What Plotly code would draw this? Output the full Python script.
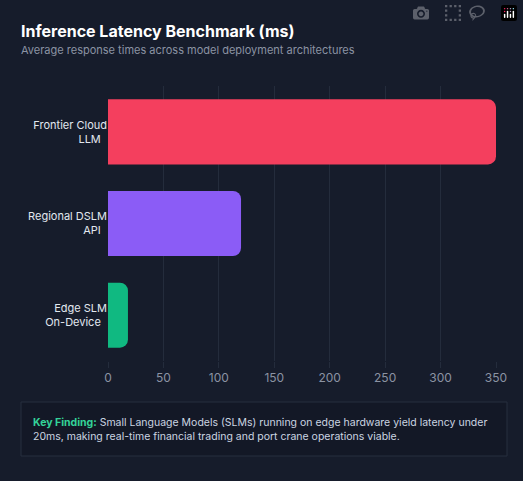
import plotly.graph_objects as go

categories = ["Edge SLM<br>On-Device", "Regional DSLM<br>API", "Frontier Cloud<br>LLM"]
latency_ms = [18, 120, 350]
bar_colors = ["#10b981", "#8b5cf6", "#f43f5e"]
tick_vals = [0, 50, 100, 150, 200, 250, 300, 350]

W, H = 523, 481
ML, MR, MT, MB = 108, 27, 86, 120
PW, PH = W - ML - MR, H - MT - MB

def px(x):
    return (x - ML) / PW
def py(y):
    return (H - MB - y) / PH

fig = go.Figure(go.Bar(
    y=categories, x=latency_ms, orientation="h",
    marker=dict(color=bar_colors, line=dict(width=0), cornerradius=8),
    hoverinfo="x+y",
))
fig.update_layout(
    width=W, height=H,
    margin=dict(l=ML, r=MR, t=MT, b=MB),
    paper_bgcolor="#161c2b", plot_bgcolor="#161c2b",
    bargap=0.29, showlegend=False,
    font=dict(family="Inter, Lato, sans-serif", color="#cbd5e1", size=11),
    xaxis=dict(range=[0, 350], tickvals=tick_vals, showgrid=True, gridcolor="#242c3c",
               zeroline=False, ticks="outside", ticklen=6, tickcolor="#242c3c",
               tickfont=dict(size=12, color="#8b93a3"), showline=False, fixedrange=True),
    yaxis=dict(showgrid=False, tickfont=dict(size=11, color="#e2e8f0"), ticks="",
               ticksuffix="  ", fixedrange=True),
    shapes=[
        dict(type="rect", xref="paper", yref="paper", x0=px(21), x1=px(507), y0=py(456), y1=py(402),
             fillcolor="#131826", line=dict(color="#262e3e", width=1), layer="below"),
    ],
    annotations=[
        dict(text="<b>Inference Latency Benchmark (ms)</b>", xref="paper", yref="paper",
             x=px(19), y=py(31), xanchor="left", yanchor="middle", showarrow=False,
             font=dict(size=16, color="#ffffff")),
        dict(text="Average response times across model deployment architectures", xref="paper", yref="paper",
             x=px(19), y=py(50), xanchor="left", yanchor="middle", showarrow=False,
             font=dict(size=11, color="#8b93a3")),
        dict(text="<b><span style='color:#34d399'>Key Finding:</span></b> Small Language Models (SLMs) running on edge hardware yield latency under<br>20ms, making real-time financial trading and port crane operations viable.",
             xref="paper", yref="paper", x=px(31), y=py(429), xanchor="left", yanchor="middle",
             align="left", showarrow=False, font=dict(size=10.5, color="#cbd5e1")),
    ],
)
fig.write_html("out.html",
               post_script="document.body.style.margin='0';document.body.style.background='#161c2b';")
